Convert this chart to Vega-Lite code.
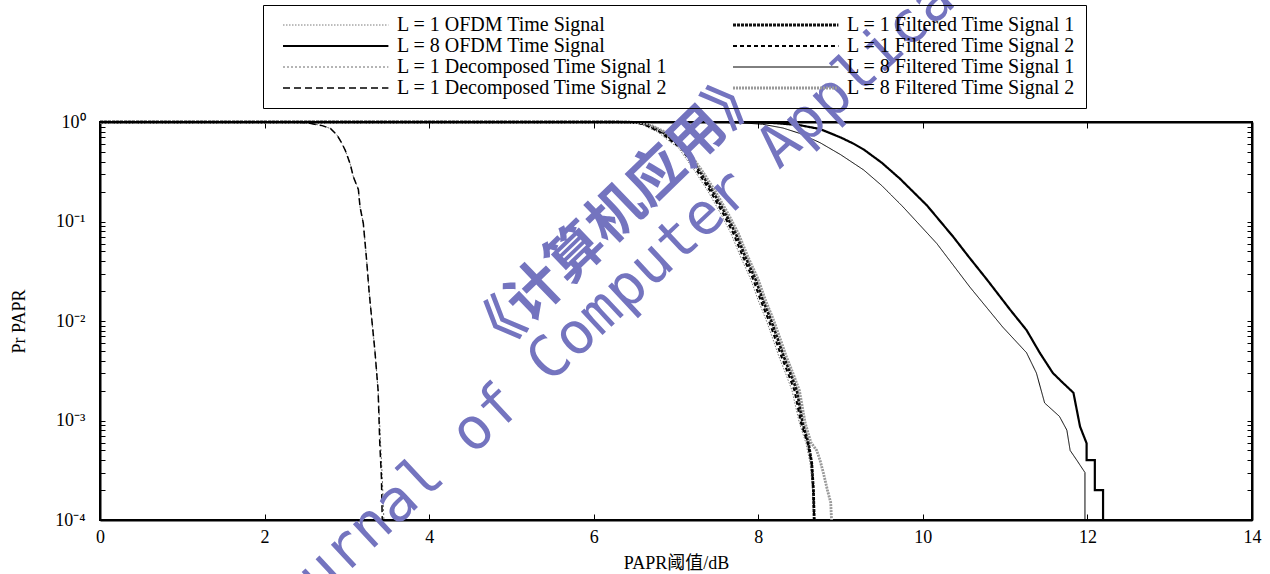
{
  "$schema": "https://vega.github.io/schema/vega-lite/v6.json",
  "width": 1152,
  "height": 398,
  "autosize": {"type": "none"},
  "padding": {"left": 100, "top": 122, "right": 18, "bottom": 54},
  "background": "white",
  "config": {
    "view": {"stroke": "black", "strokeWidth": 2},
    "axis": {
      "grid": false,
      "domainColor": "black",
      "domainWidth": 2,
      "tickColor": "black",
      "tickWidth": 1,
      "labelFont": "Liberation Serif",
      "labelFontSize": 18,
      "labelColor": "black",
      "titleFont": "Liberation Serif, Noto Sans CJK SC",
      "titleFontSize": 18,
      "titleFontWeight": "normal",
      "titleColor": "black"
    },
    "legend": {
      "labelFont": "Liberation Serif",
      "labelFontSize": 20,
      "labelColor": "black",
      "labelLimit": 0
    }
  },
  "resolve": {"axis": {"x": "independent", "y": "independent"}},
  "layer": [
    {
      "data": {
        "values": [
          {"series": "L = 1 OFDM Time Signal", "papr": 0, "p": 1},
          {"series": "L = 1 OFDM Time Signal", "papr": 6.3, "p": 1},
          {"series": "L = 1 OFDM Time Signal", "papr": 6.46, "p": 0.99},
          {"series": "L = 1 OFDM Time Signal", "papr": 6.58, "p": 0.95},
          {"series": "L = 1 OFDM Time Signal", "papr": 6.78, "p": 0.79},
          {"series": "L = 1 OFDM Time Signal", "papr": 6.93, "p": 0.63},
          {"series": "L = 1 OFDM Time Signal", "papr": 7.03, "p": 0.55},
          {"series": "L = 1 OFDM Time Signal", "papr": 7.23, "p": 0.32},
          {"series": "L = 1 OFDM Time Signal", "papr": 7.39, "p": 0.2},
          {"series": "L = 1 OFDM Time Signal", "papr": 7.55, "p": 0.117},
          {"series": "L = 1 OFDM Time Signal", "papr": 7.67, "p": 0.075},
          {"series": "L = 1 OFDM Time Signal", "papr": 7.78, "p": 0.045},
          {"series": "L = 1 OFDM Time Signal", "papr": 7.91, "p": 0.026},
          {"series": "L = 1 OFDM Time Signal", "papr": 8.0, "p": 0.016},
          {"series": "L = 1 OFDM Time Signal", "papr": 8.1, "p": 0.01},
          {"series": "L = 1 OFDM Time Signal", "papr": 8.18, "p": 0.0065},
          {"series": "L = 1 OFDM Time Signal", "papr": 8.25, "p": 0.0044},
          {"series": "L = 1 OFDM Time Signal", "papr": 8.33, "p": 0.003},
          {"series": "L = 1 OFDM Time Signal", "papr": 8.41, "p": 0.002},
          {"series": "L = 1 OFDM Time Signal", "papr": 8.5, "p": 0.00094},
          {"series": "L = 1 OFDM Time Signal", "papr": 8.58, "p": 0.00059},
          {"series": "L = 1 OFDM Time Signal", "papr": 8.63, "p": 0.00037},
          {"series": "L = 1 OFDM Time Signal", "papr": 8.66, "p": 0.0002},
          {"series": "L = 1 OFDM Time Signal", "papr": 8.67, "p": 0.0001},

          {"series": "L = 1 Filtered Time Signal 1", "papr": 0, "p": 1},
          {"series": "L = 1 Filtered Time Signal 1", "papr": 6.3, "p": 1},
          {"series": "L = 1 Filtered Time Signal 1", "papr": 6.52, "p": 0.99},
          {"series": "L = 1 Filtered Time Signal 1", "papr": 6.64, "p": 0.95},
          {"series": "L = 1 Filtered Time Signal 1", "papr": 6.84, "p": 0.79},
          {"series": "L = 1 Filtered Time Signal 1", "papr": 6.99, "p": 0.63},
          {"series": "L = 1 Filtered Time Signal 1", "papr": 7.09, "p": 0.55},
          {"series": "L = 1 Filtered Time Signal 1", "papr": 7.29, "p": 0.32},
          {"series": "L = 1 Filtered Time Signal 1", "papr": 7.45, "p": 0.2},
          {"series": "L = 1 Filtered Time Signal 1", "papr": 7.61, "p": 0.117},
          {"series": "L = 1 Filtered Time Signal 1", "papr": 7.73, "p": 0.075},
          {"series": "L = 1 Filtered Time Signal 1", "papr": 7.84, "p": 0.045},
          {"series": "L = 1 Filtered Time Signal 1", "papr": 7.97, "p": 0.026},
          {"series": "L = 1 Filtered Time Signal 1", "papr": 8.06, "p": 0.016},
          {"series": "L = 1 Filtered Time Signal 1", "papr": 8.16, "p": 0.01},
          {"series": "L = 1 Filtered Time Signal 1", "papr": 8.24, "p": 0.0065},
          {"series": "L = 1 Filtered Time Signal 1", "papr": 8.31, "p": 0.0044},
          {"series": "L = 1 Filtered Time Signal 1", "papr": 8.39, "p": 0.003},
          {"series": "L = 1 Filtered Time Signal 1", "papr": 8.47, "p": 0.002},
          {"series": "L = 1 Filtered Time Signal 1", "papr": 8.54, "p": 0.00094},
          {"series": "L = 1 Filtered Time Signal 1", "papr": 8.61, "p": 0.00059},
          {"series": "L = 1 Filtered Time Signal 1", "papr": 8.65, "p": 0.00037},
          {"series": "L = 1 Filtered Time Signal 1", "papr": 8.67, "p": 0.0002},
          {"series": "L = 1 Filtered Time Signal 1", "papr": 8.68, "p": 0.0001},

          {"series": "L = 1 Filtered Time Signal 2", "papr": 0, "p": 1},
          {"series": "L = 1 Filtered Time Signal 2", "papr": 6.3, "p": 1},
          {"series": "L = 1 Filtered Time Signal 2", "papr": 6.49, "p": 0.99},
          {"series": "L = 1 Filtered Time Signal 2", "papr": 6.61, "p": 0.95},
          {"series": "L = 1 Filtered Time Signal 2", "papr": 6.81, "p": 0.79},
          {"series": "L = 1 Filtered Time Signal 2", "papr": 6.96, "p": 0.63},
          {"series": "L = 1 Filtered Time Signal 2", "papr": 7.06, "p": 0.55},
          {"series": "L = 1 Filtered Time Signal 2", "papr": 7.26, "p": 0.32},
          {"series": "L = 1 Filtered Time Signal 2", "papr": 7.42, "p": 0.2},
          {"series": "L = 1 Filtered Time Signal 2", "papr": 7.58, "p": 0.117},
          {"series": "L = 1 Filtered Time Signal 2", "papr": 7.7, "p": 0.075},
          {"series": "L = 1 Filtered Time Signal 2", "papr": 7.81, "p": 0.045},
          {"series": "L = 1 Filtered Time Signal 2", "papr": 7.94, "p": 0.026},
          {"series": "L = 1 Filtered Time Signal 2", "papr": 8.03, "p": 0.016},
          {"series": "L = 1 Filtered Time Signal 2", "papr": 8.13, "p": 0.01},
          {"series": "L = 1 Filtered Time Signal 2", "papr": 8.21, "p": 0.0065},
          {"series": "L = 1 Filtered Time Signal 2", "papr": 8.28, "p": 0.0044},
          {"series": "L = 1 Filtered Time Signal 2", "papr": 8.36, "p": 0.003},
          {"series": "L = 1 Filtered Time Signal 2", "papr": 8.44, "p": 0.002},
          {"series": "L = 1 Filtered Time Signal 2", "papr": 8.52, "p": 0.00094},
          {"series": "L = 1 Filtered Time Signal 2", "papr": 8.6, "p": 0.00059},
          {"series": "L = 1 Filtered Time Signal 2", "papr": 8.65, "p": 0.00037},
          {"series": "L = 1 Filtered Time Signal 2", "papr": 8.67, "p": 0.0002},
          {"series": "L = 1 Filtered Time Signal 2", "papr": 8.68, "p": 0.0001},

          {"series": "L = 8 Filtered Time Signal 2", "papr": 0, "p": 1},
          {"series": "L = 8 Filtered Time Signal 2", "papr": 6.3, "p": 1},
          {"series": "L = 8 Filtered Time Signal 2", "papr": 6.55, "p": 0.99},
          {"series": "L = 8 Filtered Time Signal 2", "papr": 6.67, "p": 0.95},
          {"series": "L = 8 Filtered Time Signal 2", "papr": 6.87, "p": 0.79},
          {"series": "L = 8 Filtered Time Signal 2", "papr": 7.02, "p": 0.63},
          {"series": "L = 8 Filtered Time Signal 2", "papr": 7.12, "p": 0.55},
          {"series": "L = 8 Filtered Time Signal 2", "papr": 7.32, "p": 0.32},
          {"series": "L = 8 Filtered Time Signal 2", "papr": 7.48, "p": 0.2},
          {"series": "L = 8 Filtered Time Signal 2", "papr": 7.64, "p": 0.117},
          {"series": "L = 8 Filtered Time Signal 2", "papr": 7.76, "p": 0.075},
          {"series": "L = 8 Filtered Time Signal 2", "papr": 7.87, "p": 0.045},
          {"series": "L = 8 Filtered Time Signal 2", "papr": 8.0, "p": 0.026},
          {"series": "L = 8 Filtered Time Signal 2", "papr": 8.09, "p": 0.016},
          {"series": "L = 8 Filtered Time Signal 2", "papr": 8.19, "p": 0.01},
          {"series": "L = 8 Filtered Time Signal 2", "papr": 8.27, "p": 0.0065},
          {"series": "L = 8 Filtered Time Signal 2", "papr": 8.34, "p": 0.0044},
          {"series": "L = 8 Filtered Time Signal 2", "papr": 8.42, "p": 0.003},
          {"series": "L = 8 Filtered Time Signal 2", "papr": 8.5, "p": 0.002},
          {"series": "L = 8 Filtered Time Signal 2", "papr": 8.57, "p": 0.00094},
          {"series": "L = 8 Filtered Time Signal 2", "papr": 8.64, "p": 0.0006},
          {"series": "L = 8 Filtered Time Signal 2", "papr": 8.71, "p": 0.0005},
          {"series": "L = 8 Filtered Time Signal 2", "papr": 8.75, "p": 0.0004},
          {"series": "L = 8 Filtered Time Signal 2", "papr": 8.79, "p": 0.0003},
          {"series": "L = 8 Filtered Time Signal 2", "papr": 8.84, "p": 0.0002},
          {"series": "L = 8 Filtered Time Signal 2", "papr": 8.88, "p": 0.00015},
          {"series": "L = 8 Filtered Time Signal 2", "papr": 8.89, "p": 0.0001},

          {"series": "L = 1 Decomposed Time Signal 1", "papr": 0, "p": 1},
          {"series": "L = 1 Decomposed Time Signal 1", "papr": 2.4, "p": 1},
          {"series": "L = 1 Decomposed Time Signal 1", "papr": 2.55, "p": 0.97},
          {"series": "L = 1 Decomposed Time Signal 1", "papr": 2.7, "p": 0.92},
          {"series": "L = 1 Decomposed Time Signal 1", "papr": 2.8, "p": 0.86},
          {"series": "L = 1 Decomposed Time Signal 1", "papr": 2.88, "p": 0.74},
          {"series": "L = 1 Decomposed Time Signal 1", "papr": 2.94, "p": 0.61},
          {"series": "L = 1 Decomposed Time Signal 1", "papr": 2.98, "p": 0.52},
          {"series": "L = 1 Decomposed Time Signal 1", "papr": 3.04, "p": 0.38},
          {"series": "L = 1 Decomposed Time Signal 1", "papr": 3.08, "p": 0.28},
          {"series": "L = 1 Decomposed Time Signal 1", "papr": 3.14, "p": 0.21},
          {"series": "L = 1 Decomposed Time Signal 1", "papr": 3.16, "p": 0.14},
          {"series": "L = 1 Decomposed Time Signal 1", "papr": 3.2, "p": 0.096},
          {"series": "L = 1 Decomposed Time Signal 1", "papr": 3.24, "p": 0.041},
          {"series": "L = 1 Decomposed Time Signal 1", "papr": 3.27, "p": 0.02},
          {"series": "L = 1 Decomposed Time Signal 1", "papr": 3.3, "p": 0.011},
          {"series": "L = 1 Decomposed Time Signal 1", "papr": 3.34, "p": 0.0051},
          {"series": "L = 1 Decomposed Time Signal 1", "papr": 3.38, "p": 0.002},
          {"series": "L = 1 Decomposed Time Signal 1", "papr": 3.41, "p": 0.00059},
          {"series": "L = 1 Decomposed Time Signal 1", "papr": 3.43, "p": 0.00027},
          {"series": "L = 1 Decomposed Time Signal 1", "papr": 3.45, "p": 0.0001},

          {"series": "L = 1 Decomposed Time Signal 2", "papr": 0, "p": 1},
          {"series": "L = 1 Decomposed Time Signal 2", "papr": 2.4, "p": 1},
          {"series": "L = 1 Decomposed Time Signal 2", "papr": 2.55, "p": 0.97},
          {"series": "L = 1 Decomposed Time Signal 2", "papr": 2.7, "p": 0.92},
          {"series": "L = 1 Decomposed Time Signal 2", "papr": 2.8, "p": 0.86},
          {"series": "L = 1 Decomposed Time Signal 2", "papr": 2.88, "p": 0.74},
          {"series": "L = 1 Decomposed Time Signal 2", "papr": 2.94, "p": 0.61},
          {"series": "L = 1 Decomposed Time Signal 2", "papr": 2.98, "p": 0.52},
          {"series": "L = 1 Decomposed Time Signal 2", "papr": 3.04, "p": 0.38},
          {"series": "L = 1 Decomposed Time Signal 2", "papr": 3.08, "p": 0.28},
          {"series": "L = 1 Decomposed Time Signal 2", "papr": 3.14, "p": 0.21},
          {"series": "L = 1 Decomposed Time Signal 2", "papr": 3.16, "p": 0.14},
          {"series": "L = 1 Decomposed Time Signal 2", "papr": 3.2, "p": 0.096},
          {"series": "L = 1 Decomposed Time Signal 2", "papr": 3.24, "p": 0.041},
          {"series": "L = 1 Decomposed Time Signal 2", "papr": 3.27, "p": 0.02},
          {"series": "L = 1 Decomposed Time Signal 2", "papr": 3.3, "p": 0.011},
          {"series": "L = 1 Decomposed Time Signal 2", "papr": 3.34, "p": 0.0051},
          {"series": "L = 1 Decomposed Time Signal 2", "papr": 3.38, "p": 0.002},
          {"series": "L = 1 Decomposed Time Signal 2", "papr": 3.4, "p": 0.00059},
          {"series": "L = 1 Decomposed Time Signal 2", "papr": 3.42, "p": 0.00027},
          {"series": "L = 1 Decomposed Time Signal 2", "papr": 3.43, "p": 0.0001},

          {"series": "L = 8 OFDM Time Signal", "papr": 0, "p": 1},
          {"series": "L = 8 OFDM Time Signal", "papr": 7.6, "p": 1},
          {"series": "L = 8 OFDM Time Signal", "papr": 7.95, "p": 0.995},
          {"series": "L = 8 OFDM Time Signal", "papr": 8.2, "p": 0.975},
          {"series": "L = 8 OFDM Time Signal", "papr": 8.5, "p": 0.93},
          {"series": "L = 8 OFDM Time Signal", "papr": 8.75, "p": 0.85},
          {"series": "L = 8 OFDM Time Signal", "papr": 9.0, "p": 0.7},
          {"series": "L = 8 OFDM Time Signal", "papr": 9.15, "p": 0.61},
          {"series": "L = 8 OFDM Time Signal", "papr": 9.28, "p": 0.53},
          {"series": "L = 8 OFDM Time Signal", "papr": 9.5, "p": 0.39},
          {"series": "L = 8 OFDM Time Signal", "papr": 9.72, "p": 0.27},
          {"series": "L = 8 OFDM Time Signal", "papr": 10.05, "p": 0.145},
          {"series": "L = 8 OFDM Time Signal", "papr": 10.37, "p": 0.07},
          {"series": "L = 8 OFDM Time Signal", "papr": 10.55, "p": 0.045},
          {"series": "L = 8 OFDM Time Signal", "papr": 10.78, "p": 0.026},
          {"series": "L = 8 OFDM Time Signal", "papr": 11.06, "p": 0.013},
          {"series": "L = 8 OFDM Time Signal", "papr": 11.26, "p": 0.0081},
          {"series": "L = 8 OFDM Time Signal", "papr": 11.42, "p": 0.0048},
          {"series": "L = 8 OFDM Time Signal", "papr": 11.58, "p": 0.003},
          {"series": "L = 8 OFDM Time Signal", "papr": 11.7, "p": 0.0024},
          {"series": "L = 8 OFDM Time Signal", "papr": 11.83, "p": 0.0019},
          {"series": "L = 8 OFDM Time Signal", "papr": 11.91, "p": 0.00087},
          {"series": "L = 8 OFDM Time Signal", "papr": 11.99, "p": 0.00059},
          {"series": "L = 8 OFDM Time Signal", "papr": 11.99, "p": 0.0004},
          {"series": "L = 8 OFDM Time Signal", "papr": 12.09, "p": 0.0004},
          {"series": "L = 8 OFDM Time Signal", "papr": 12.09, "p": 0.0002},
          {"series": "L = 8 OFDM Time Signal", "papr": 12.19, "p": 0.0002},
          {"series": "L = 8 OFDM Time Signal", "papr": 12.19, "p": 0.0001},

          {"series": "L = 8 Filtered Time Signal 1", "papr": 0, "p": 1},
          {"series": "L = 8 Filtered Time Signal 1", "papr": 7.3, "p": 1},
          {"series": "L = 8 Filtered Time Signal 1", "papr": 7.6, "p": 0.995},
          {"series": "L = 8 Filtered Time Signal 1", "papr": 7.8, "p": 0.98},
          {"series": "L = 8 Filtered Time Signal 1", "papr": 8.05, "p": 0.95},
          {"series": "L = 8 Filtered Time Signal 1", "papr": 8.3, "p": 0.87},
          {"series": "L = 8 Filtered Time Signal 1", "papr": 8.5, "p": 0.77},
          {"series": "L = 8 Filtered Time Signal 1", "papr": 8.75, "p": 0.62},
          {"series": "L = 8 Filtered Time Signal 1", "papr": 9.0, "p": 0.47},
          {"series": "L = 8 Filtered Time Signal 1", "papr": 9.28, "p": 0.33},
          {"series": "L = 8 Filtered Time Signal 1", "papr": 9.5, "p": 0.23},
          {"series": "L = 8 Filtered Time Signal 1", "papr": 9.76, "p": 0.14},
          {"series": "L = 8 Filtered Time Signal 1", "papr": 10.17, "p": 0.06},
          {"series": "L = 8 Filtered Time Signal 1", "papr": 10.57, "p": 0.022},
          {"series": "L = 8 Filtered Time Signal 1", "papr": 10.97, "p": 0.0087},
          {"series": "L = 8 Filtered Time Signal 1", "papr": 11.26, "p": 0.0048},
          {"series": "L = 8 Filtered Time Signal 1", "papr": 11.38, "p": 0.003},
          {"series": "L = 8 Filtered Time Signal 1", "papr": 11.48, "p": 0.0015},
          {"series": "L = 8 Filtered Time Signal 1", "papr": 11.66, "p": 0.0011},
          {"series": "L = 8 Filtered Time Signal 1", "papr": 11.75, "p": 0.0008},
          {"series": "L = 8 Filtered Time Signal 1", "papr": 11.79, "p": 0.0005},
          {"series": "L = 8 Filtered Time Signal 1", "papr": 11.87, "p": 0.0004},
          {"series": "L = 8 Filtered Time Signal 1", "papr": 11.97, "p": 0.0003},
          {"series": "L = 8 Filtered Time Signal 1", "papr": 11.97, "p": 0.0001}
        ]
      },
      "mark": {"type": "line", "interpolate": "linear"},
      "encoding": {
        "x": {
          "field": "papr",
          "type": "quantitative",
          "scale": {"domain": [0, 14], "nice": false, "zero": false},
          "axis": {
            "orient": "bottom",
            "values": [0, 2, 4, 6, 8, 10, 12, 14],
            "tickSize": -6,
            "labelPadding": 14,
            "labelFlush": false,
            "title": "PAPR阈值/dB",
            "titlePadding": 8
          }
        },
        "y": {
          "field": "p",
          "type": "quantitative",
          "scale": {"type": "log", "domain": [0.0001, 1], "nice": false},
          "axis": {
            "orient": "left",
            "values": [0.0001, 0.0002, 0.0003, 0.0004, 0.0005, 0.0006, 0.0007, 0.0008, 0.0009, 0.001, 0.002, 0.003, 0.004, 0.005, 0.006, 0.007, 0.008, 0.009, 0.01, 0.02, 0.03, 0.04, 0.05, 0.06, 0.07, 0.08, 0.09, 0.1, 0.2, 0.3, 0.4, 0.5, 0.6, 0.7, 0.8, 0.9, 1],
            "tickSize": -5,
            "labelPadding": 20,
            "labelExpr": "abs(log(datum.value)/LN10 - round(log(datum.value)/LN10)) < 0.000001 ? ['10⁰','10⁻¹','10⁻²','10⁻³','10⁻⁴'][-round(log(datum.value)/LN10)] : ''",
            "title": "Pr PAPR",
            "titlePadding": 26
          }
        },
        "color": {
          "field": "series",
          "type": "nominal",
          "scale": {
            "domain": ["L = 1 OFDM Time Signal", "L = 1 Filtered Time Signal 1", "L = 8 OFDM Time Signal", "L = 1 Filtered Time Signal 2", "L = 1 Decomposed Time Signal 1", "L = 8 Filtered Time Signal 1", "L = 1 Decomposed Time Signal 2", "L = 8 Filtered Time Signal 2"],
            "range": ["#7a7a7a", "#111111", "#000000", "#000000", "#6a6a6a", "#000000", "#000000", "#9a9a9a"]
          },
          "legend": {
            "title": null,
            "orient": "none",
            "legendX": 163,
            "legendY": -117,
            "columns": 2,
            "direction": "horizontal",
            "symbolType": "M0,0H12.4",
            "symbolSize": 289,
            "labelOffset": 104,
            "labelLimit": 0,
            "columnPadding": 55,
            "rowPadding": 1,
            "padding": 10,
            "strokeColor": "black"
          }
        },
        "strokeDash": {
          "field": "series",
          "type": "nominal",
          "scale": {
            "domain": ["L = 1 OFDM Time Signal", "L = 1 Filtered Time Signal 1", "L = 8 OFDM Time Signal", "L = 1 Filtered Time Signal 2", "L = 1 Decomposed Time Signal 1", "L = 8 Filtered Time Signal 1", "L = 1 Decomposed Time Signal 2", "L = 8 Filtered Time Signal 2"],
            "range": [[1.5, 1.5], [3, 1], [1, 0], [4, 3], [2, 2], [1, 0], [7, 4], [2, 1]]
          }
        },
        "strokeWidth": {
          "field": "series",
          "type": "nominal",
          "scale": {
            "type": "ordinal",
            "domain": ["L = 1 OFDM Time Signal", "L = 1 Filtered Time Signal 1", "L = 8 OFDM Time Signal", "L = 1 Filtered Time Signal 2", "L = 1 Decomposed Time Signal 1", "L = 8 Filtered Time Signal 1", "L = 1 Decomposed Time Signal 2", "L = 8 Filtered Time Signal 2"],
            "range": [1, 2.8, 2.2, 2, 1, 1, 1.5, 2.8]
          }
        }
      }
    },
    {
      "data": {"values": [{}]},
      "mark": {
        "type": "text",
        "text": "《计算机应用》",
        "font": "Noto Sans CJK SC",
        "fontSize": 56,
        "fontWeight": "bold",
        "color": "#7474bf",
        "angle": 316,
        "align": "center",
        "baseline": "middle"
      },
      "encoding": {
        "x": {
          "datum": 6.28,
          "type": "quantitative",
          "axis": {"orient": "top", "values": [2, 4, 6, 8, 10, 12], "tickSize": -6, "labels": false, "title": null}
        },
        "y": {
          "datum": 0.116,
          "type": "quantitative",
          "axis": {
            "orient": "right",
            "values": [0.0001, 0.0002, 0.0003, 0.0004, 0.0005, 0.0006, 0.0007, 0.0008, 0.0009, 0.001, 0.002, 0.003, 0.004, 0.005, 0.006, 0.007, 0.008, 0.009, 0.01, 0.02, 0.03, 0.04, 0.05, 0.06, 0.07, 0.08, 0.09, 0.1, 0.2, 0.3, 0.4, 0.5, 0.6, 0.7, 0.8, 0.9, 1],
            "tickSize": -5,
            "labels": false,
            "title": null
          }
        }
      }
    },
    {
      "data": {"values": [{}]},
      "mark": {
        "type": "text",
        "text": "Journal of Computer Applications",
        "font": "DejaVu Sans Mono",
        "fontSize": 58,
        "color": "#7474bf",
        "angle": 317,
        "align": "center",
        "baseline": "middle"
      },
      "encoding": {
        "x": {"datum": 6.87, "type": "quantitative", "axis": null},
        "y": {"datum": 0.0482, "type": "quantitative", "axis": null}
      }
    }
  ]
}
